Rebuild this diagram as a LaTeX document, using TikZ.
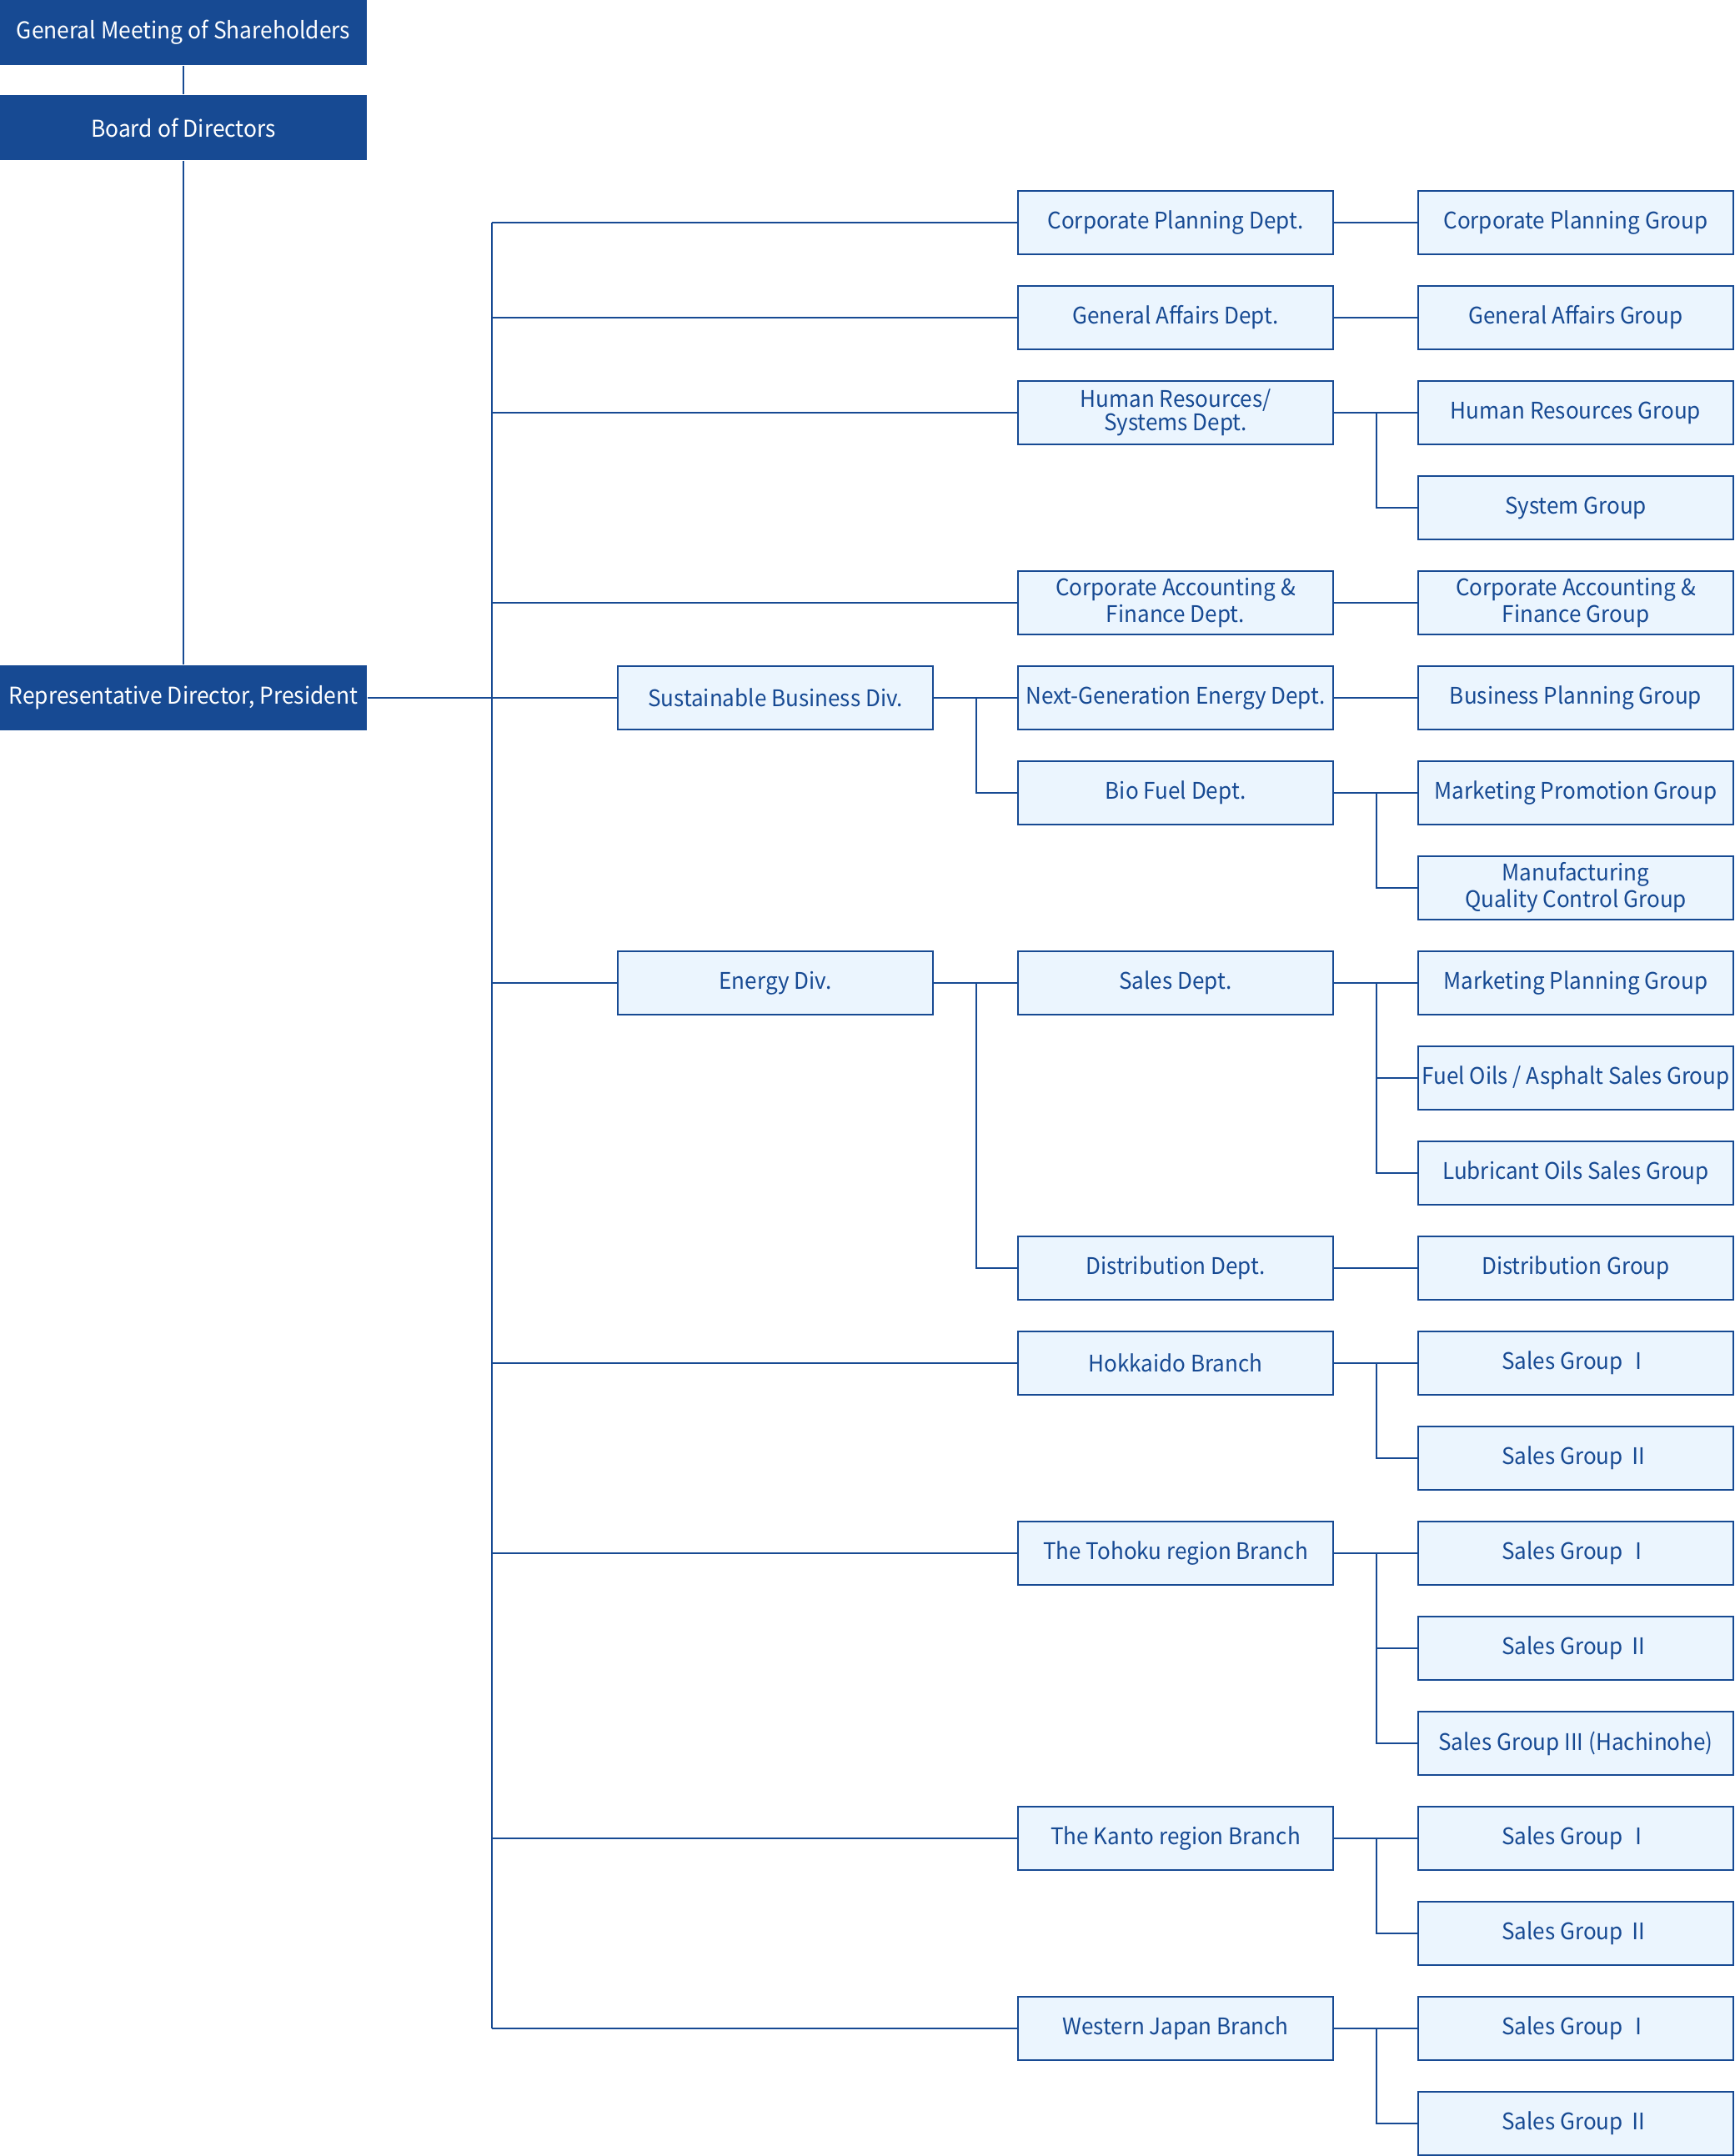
\documentclass[tikz,border=0pt]{standalone}
\usepackage{fontspec}
\setmainfont{Noto Sans CJK JP}[FakeStretch=0.95]
\usetikzlibrary{calc}
\definecolor{orgblue}{RGB}{23,74,147}
\definecolor{orgfill}{RGB}{235,245,254}

\begin{document}
\begin{tikzpicture}[
    topbox/.style={fill=orgblue, text=white, minimum width=4.40cm, minimum height=0.78cm, inner sep=0pt, align=center, font=\fontsize{7.9}{8}\selectfont},
    unitbox/.style={draw=orgblue, fill=orgfill, text=orgblue, line width=0.02cm, minimum width=3.78cm, minimum height=0.76cm, inner sep=0pt, align=center, font=\fontsize{7.8}{7.8}\selectfont},
    link/.style={draw=orgblue, line width=0.014cm}
]
            \useasboundingbox (0,0) rectangle (20.80,-25.86);

            % Top management
            \node[topbox] (gms) at (2.20,-0.39) {General Meeting of Shareholders};
            \node[topbox] (board) at (2.20,-1.53) {Board of Directors};
            \node[topbox] (pres) at (2.20,-8.37) {Representative Director, President};

            % Bus lines
            \coordinate (trunk) at (5.90,0);
            \coordinate (divbus) at (11.71,0);
            \coordinate (grpbus) at (16.51,0);

            % Divisions
            \node[unitbox] (sbd) at (9.30,-8.37) {Sustainable Business Div.};
            \node[unitbox] (ediv) at (9.30,-11.79) {Energy Div.};

            % Departments and branches
            \node[unitbox] (cpd) at (14.10,-2.67) {Corporate Planning Dept.};
            \node[unitbox] (gad) at (14.10,-3.81) {General Affairs Dept.};
            \node[unitbox] (hrd) at (14.10,-4.95) {Human Resources/\\Systems Dept.};
            \node[unitbox] (cafd) at (14.10,-7.23) {Corporate Accounting \&\\Finance Dept.};
            \node[unitbox] (nged) at (14.10,-8.37) {Next-Generation Energy Dept.};
            \node[unitbox] (bfd) at (14.10,-9.51) {Bio Fuel Dept.};
            \node[unitbox] (sd) at (14.10,-11.79) {Sales Dept.};
            \node[unitbox] (dd) at (14.10,-15.21) {Distribution Dept.};
            \node[unitbox] (hkb) at (14.10,-16.35) {Hokkaido Branch};
            \node[unitbox] (thb) at (14.10,-18.63) {The Tohoku region Branch};
            \node[unitbox] (ktb) at (14.10,-22.05) {The Kanto region Branch};
            \node[unitbox] (wjb) at (14.10,-24.33) {Western Japan Branch};

            % Groups
            \node[unitbox] (cpg) at (18.90,-2.67) {Corporate Planning Group};
            \node[unitbox] (gag) at (18.90,-3.81) {General Affairs Group};
            \node[unitbox] (hrg) at (18.90,-4.95) {Human Resources Group};
            \node[unitbox] (sysg) at (18.90,-6.09) {System Group};
            \node[unitbox] (cafg) at (18.90,-7.23) {Corporate Accounting \&\\Finance Group};
            \node[unitbox] (bpg) at (18.90,-8.37) {Business Planning Group};
            \node[unitbox] (mpromg) at (18.90,-9.51) {Marketing Promotion Group};
            \node[unitbox] (mqcg) at (18.90,-10.65) {Manufacturing\\Quality Control Group};
            \node[unitbox] (mplang) at (18.90,-11.79) {Marketing Planning Group};
            \node[unitbox] (fasg) at (18.90,-12.93) {Fuel Oils / Asphalt Sales Group};
            \node[unitbox] (losg) at (18.90,-14.07) {Lubricant Oils Sales Group};
            \node[unitbox] (dg) at (18.90,-15.21) {Distribution Group};
            \node[unitbox] (hk1) at (18.90,-16.35) {Sales Group Ⅰ};
            \node[unitbox] (hk2) at (18.90,-17.49) {Sales Group Ⅱ};
            \node[unitbox] (th1) at (18.90,-18.63) {Sales Group Ⅰ};
            \node[unitbox] (th2) at (18.90,-19.77) {Sales Group Ⅱ};
            \node[unitbox] (th3) at (18.90,-20.91) {Sales Group III (Hachinohe)};
            \node[unitbox] (kt1) at (18.90,-22.05) {Sales Group Ⅰ};
            \node[unitbox] (kt2) at (18.90,-23.19) {Sales Group Ⅱ};
            \node[unitbox] (wj1) at (18.90,-24.33) {Sales Group Ⅰ};
            \node[unitbox] (wj2) at (18.90,-25.47) {Sales Group Ⅱ};

            % Top connections
            \draw[link] (gms) -- (board);
            \draw[link] (board) -- (pres);
            \draw[link] (pres.east) -- (sbd.west);

            % Trunk
            \draw[link] (cpd.west -| trunk) -- (wjb.west -| trunk);
            \draw[link] (cpd.west) -- (cpd.west -| trunk);
            \draw[link] (gad.west) -- (gad.west -| trunk);
            \draw[link] (hrd.west) -- (hrd.west -| trunk);
            \draw[link] (cafd.west) -- (cafd.west -| trunk);
            \draw[link] (ediv.west) -- (ediv.west -| trunk);
            \draw[link] (hkb.west) -- (hkb.west -| trunk);
            \draw[link] (thb.west) -- (thb.west -| trunk);
            \draw[link] (ktb.west) -- (ktb.west -| trunk);
            \draw[link] (wjb.west) -- (wjb.west -| trunk);

            % Divisions to departments
            \draw[link] (sbd.east) -- (nged.west);
            \draw[link] (sbd.east -| divbus) |- (bfd.west);
            \draw[link] (ediv.east) -- (sd.west);
            \draw[link] (ediv.east -| divbus) |- (dd.west);

            % Departments to groups
            \draw[link] (cpd.east) -- (cpg.west);
            \draw[link] (gad.east) -- (gag.west);
            \draw[link] (hrd.east) -- (hrg.west);
            \draw[link] (hrd.east -| grpbus) |- (sysg.west);
            \draw[link] (cafd.east) -- (cafg.west);
            \draw[link] (nged.east) -- (bpg.west);
            \draw[link] (bfd.east) -- (mpromg.west);
            \draw[link] (bfd.east -| grpbus) |- (mqcg.west);
            \draw[link] (sd.east) -- (mplang.west);
            \draw[link] (sd.east -| grpbus) |- (fasg.west);
            \draw[link] (sd.east -| grpbus) |- (losg.west);
            \draw[link] (dd.east) -- (dg.west);
            \draw[link] (hkb.east) -- (hk1.west);
            \draw[link] (hkb.east -| grpbus) |- (hk2.west);
            \draw[link] (thb.east) -- (th1.west);
            \draw[link] (thb.east -| grpbus) |- (th2.west);
            \draw[link] (thb.east -| grpbus) |- (th3.west);
            \draw[link] (ktb.east) -- (kt1.west);
            \draw[link] (ktb.east -| grpbus) |- (kt2.west);
            \draw[link] (wjb.east) -- (wj1.west);
            \draw[link] (wjb.east -| grpbus) |- (wj2.west);

        \end{tikzpicture}
\end{document}
